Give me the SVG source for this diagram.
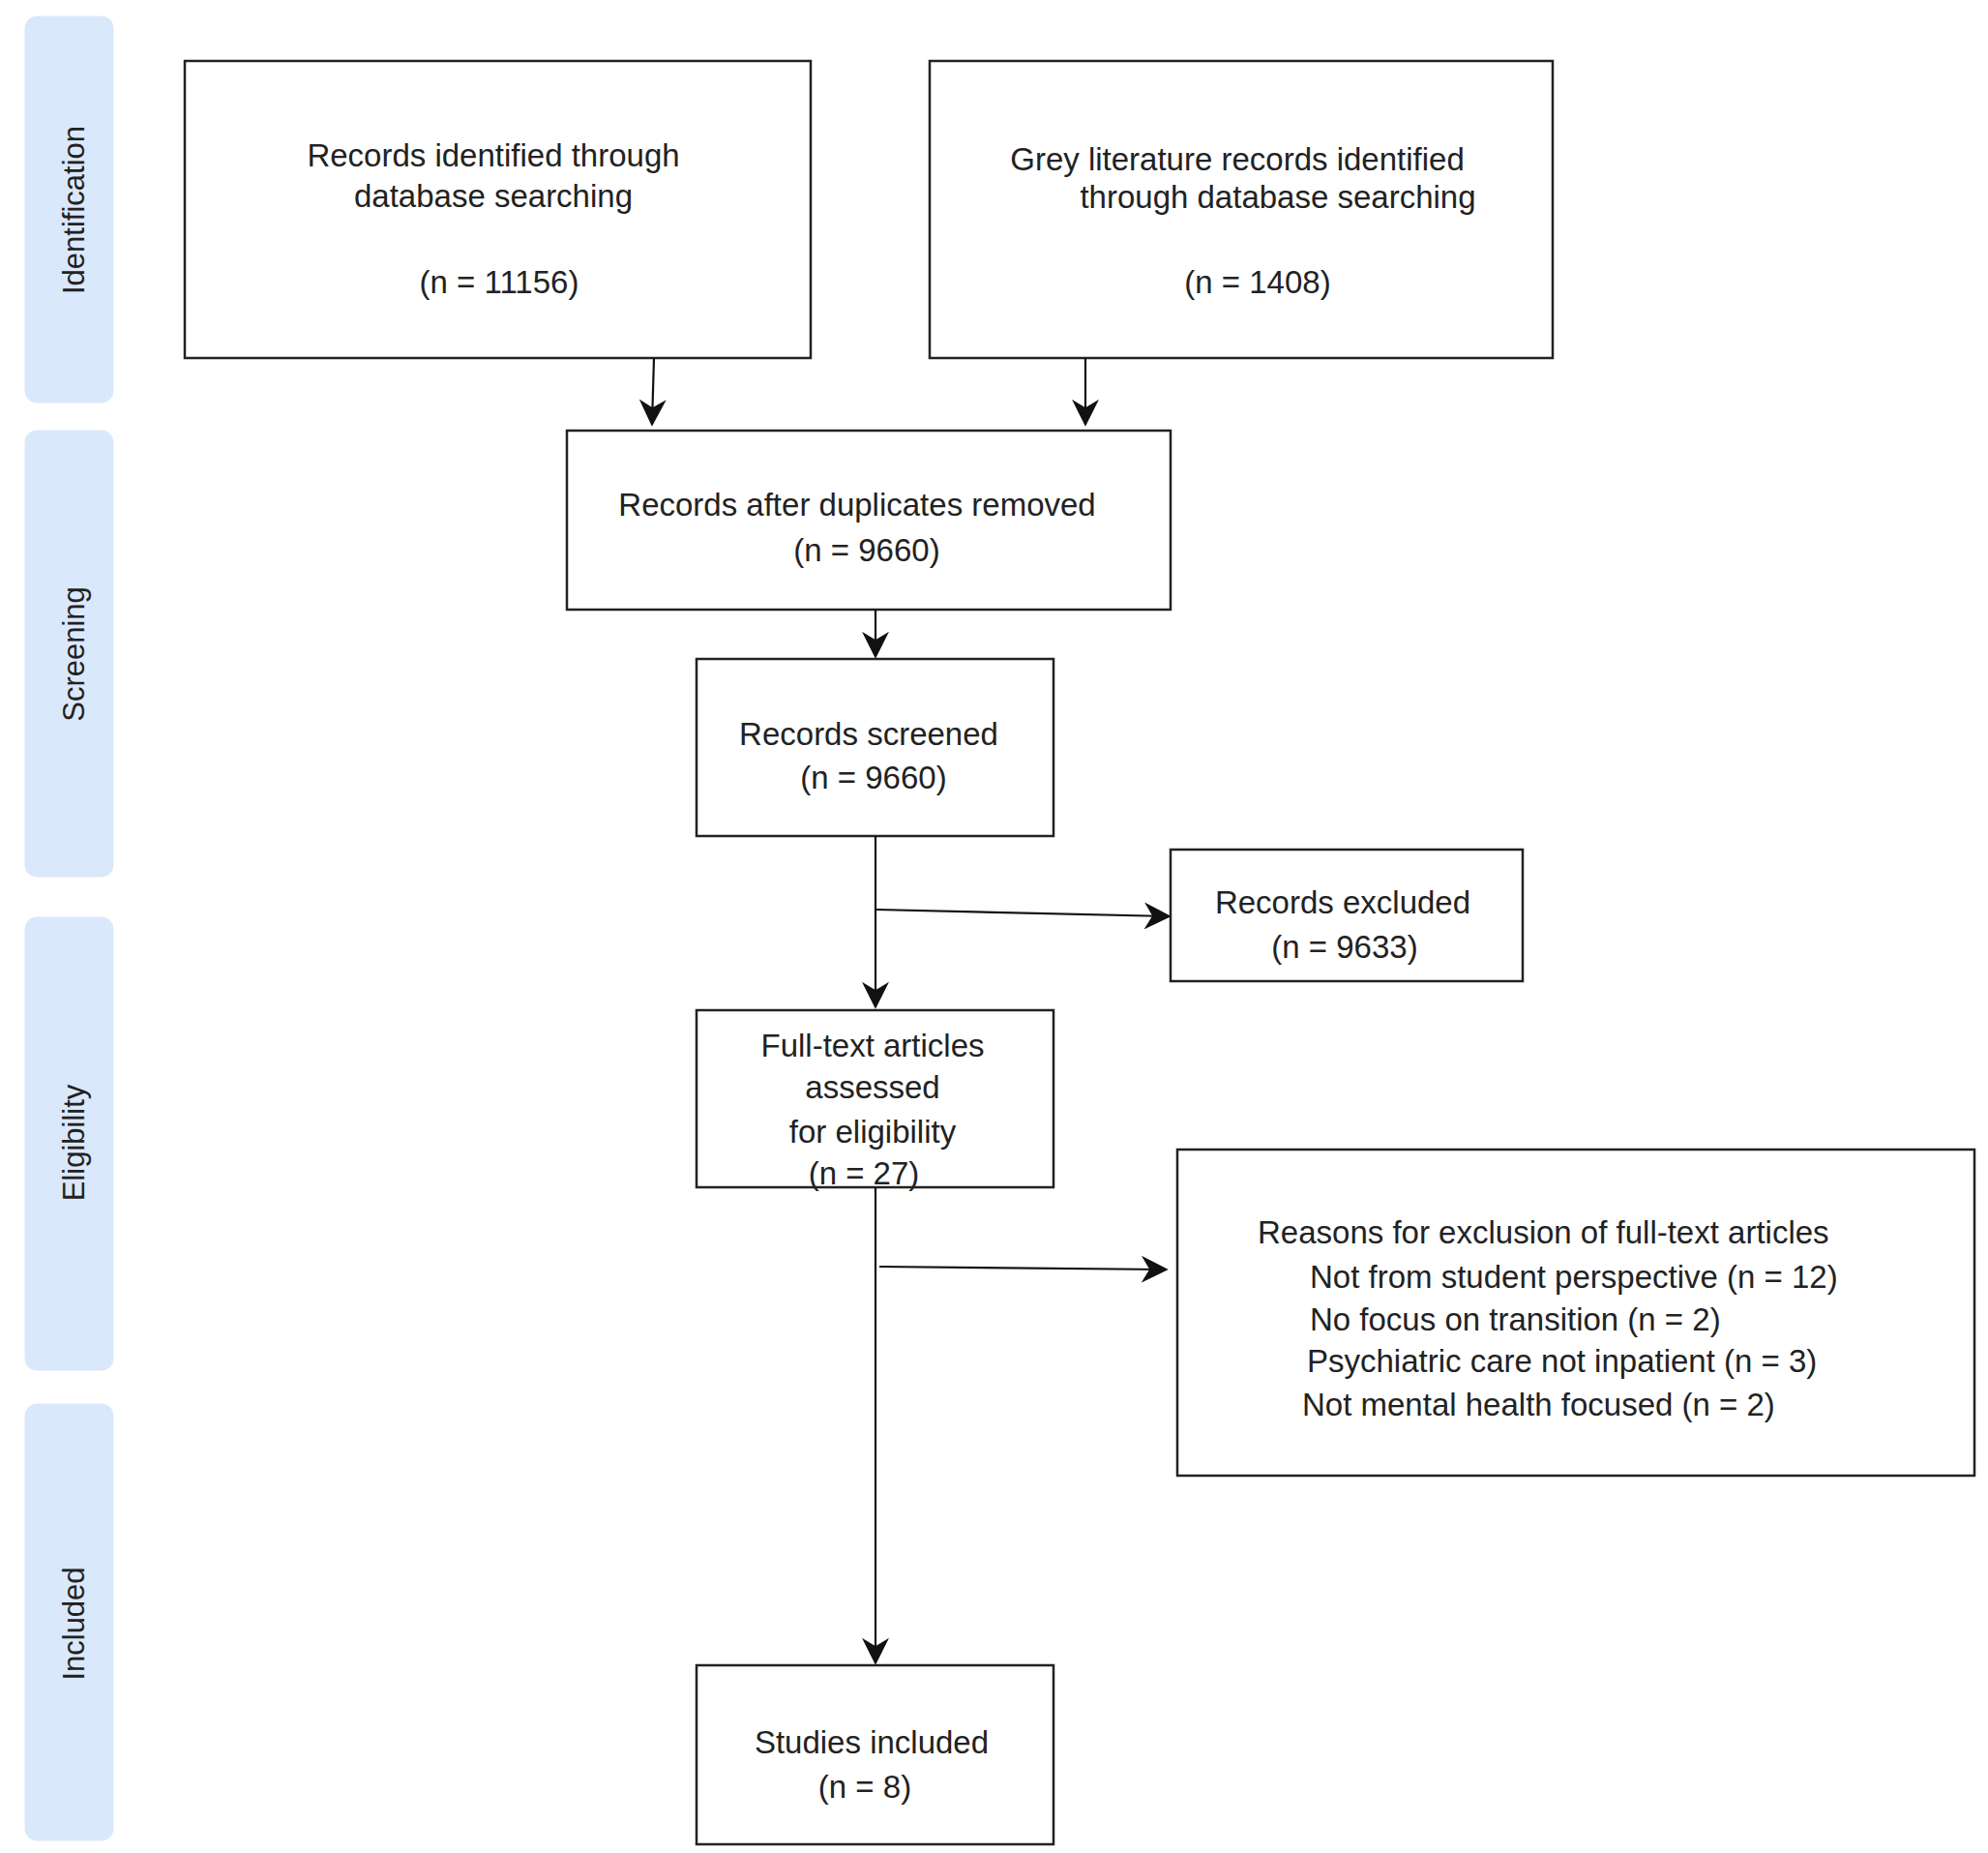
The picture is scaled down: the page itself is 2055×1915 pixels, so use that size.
<svg xmlns="http://www.w3.org/2000/svg" width="2055" height="1915" viewBox="0 0 2055 1915">
<style>
.lane{fill:#dae8fc;stroke:#dae8fc;}
.box{fill:#fff;stroke:#222;stroke-width:2.5;}
text{font-family:"Liberation Sans",Arial,sans-serif;font-size:33px;fill:#222;}
.c{text-anchor:middle;}
.ll{font-size:31px;text-anchor:middle;}
.e{stroke:#111;stroke-width:2.2;fill:none;marker-end:url(#ah);}
</style>
<defs><marker id="ah" viewBox="0 0 10 10" refX="9" refY="5" markerWidth="10" markerHeight="10" markerUnits="userSpaceOnUse" orient="auto"><path d="M0,0 L10,5 L0,10 L3,5 Z" fill="#111" transform="scale(1)"/></marker>
<marker id="ah2" viewBox="0 0 10 10" refX="9" refY="5" markerWidth="28" markerHeight="28" markerUnits="userSpaceOnUse" orient="auto"><path d="M0,0 L10,5 L0,10 L3,5 Z" fill="#111"/></marker></defs>
<rect width="2055" height="1915" fill="#fff"/>
<g id="lanes">
<rect class="lane" x="26" y="17" width="91" height="399" rx="12"/>
<rect class="lane" x="26" y="445" width="91" height="461" rx="12"/>
<rect class="lane" x="26" y="948" width="91" height="468" rx="12"/>
<rect class="lane" x="26" y="1451" width="91" height="451" rx="12"/>
<text class="ll" transform="translate(87,217) rotate(-90)">Identification</text>
<text class="ll" transform="translate(87,676) rotate(-90)">Screening</text>
<text class="ll" transform="translate(87,1181) rotate(-90)">Eligibility</text>
<text class="ll" transform="translate(87,1678) rotate(-90)">Included</text>
</g>
<g id="n1"><rect class="box" x="191" y="63" width="647" height="307"/>
<text class="c" x="510" y="172">Records identified through</text><text class="c" x="510" y="214">database searching</text><text class="c" x="516" y="303">(n = 11156)</text></g>
<g id="n2"><rect class="box" x="961" y="63" width="644" height="307"/>
<text class="c" x="1279" y="176">Grey literature records identified</text><text class="c" x="1321" y="215">through database searching</text><text class="c" x="1300" y="303">(n = 1408)</text></g>
<g id="n3"><rect class="box" x="586" y="445" width="624" height="185"/>
<text class="c" x="886" y="533">Records after duplicates removed</text><text class="c" x="896" y="580">(n = 9660)</text></g>
<g id="n4"><rect class="box" x="720" y="681" width="369" height="183"/>
<text class="c" x="898" y="770">Records screened</text><text class="c" x="903" y="815">(n = 9660)</text></g>
<g id="n5"><rect class="box" x="1210" y="878" width="364" height="136"/>
<text class="c" x="1388" y="944">Records excluded</text><text class="c" x="1390" y="990">(n = 9633)</text></g>
<g id="n6"><rect class="box" x="720" y="1044" width="369" height="183"/>
<text class="c" x="902" y="1092">Full-text articles</text><text class="c" x="902" y="1135">assessed</text><text class="c" x="902" y="1181">for eligibility</text><text class="c" x="893" y="1224">(n = 27)</text></g>
<g id="n7"><rect class="box" x="1217" y="1188" width="824" height="337"/>
<text x="1300" y="1285">Reasons for exclusion of full-text articles</text>
<text x="1354" y="1331">Not from student perspective (n = 12)</text>
<text x="1354" y="1375">No focus on transition  (n = 2)</text>
<text x="1351" y="1418">Psychiatric care not inpatient (n = 3)</text>
<text x="1346" y="1463">Not mental health focused (n = 2)</text></g>
<g id="n8"><rect class="box" x="720" y="1721" width="369" height="185"/>
<text class="c" x="901" y="1812">Studies included</text><text class="c" x="894" y="1858">(n = 8)</text></g>
<g id="connectors">
<path class="e" style="marker-end:url(#ah2)" d="M676,370 L674,438"/>
<path class="e" style="marker-end:url(#ah2)" d="M1122,370 L1122,438"/>
<path class="e" style="marker-end:url(#ah2)" d="M905,630 L905,678"/>
<path class="e" style="marker-end:url(#ah2)" d="M905,864 L905,1040"/>
<path class="e" style="marker-end:url(#ah2)" d="M906,940 L1208,947"/>
<path class="e" style="marker-end:url(#ah2)" d="M905,1227 L905,1718"/>
<path class="e" style="marker-end:url(#ah2)" d="M909,1309 L1205,1312"/>
</g>
</svg>
